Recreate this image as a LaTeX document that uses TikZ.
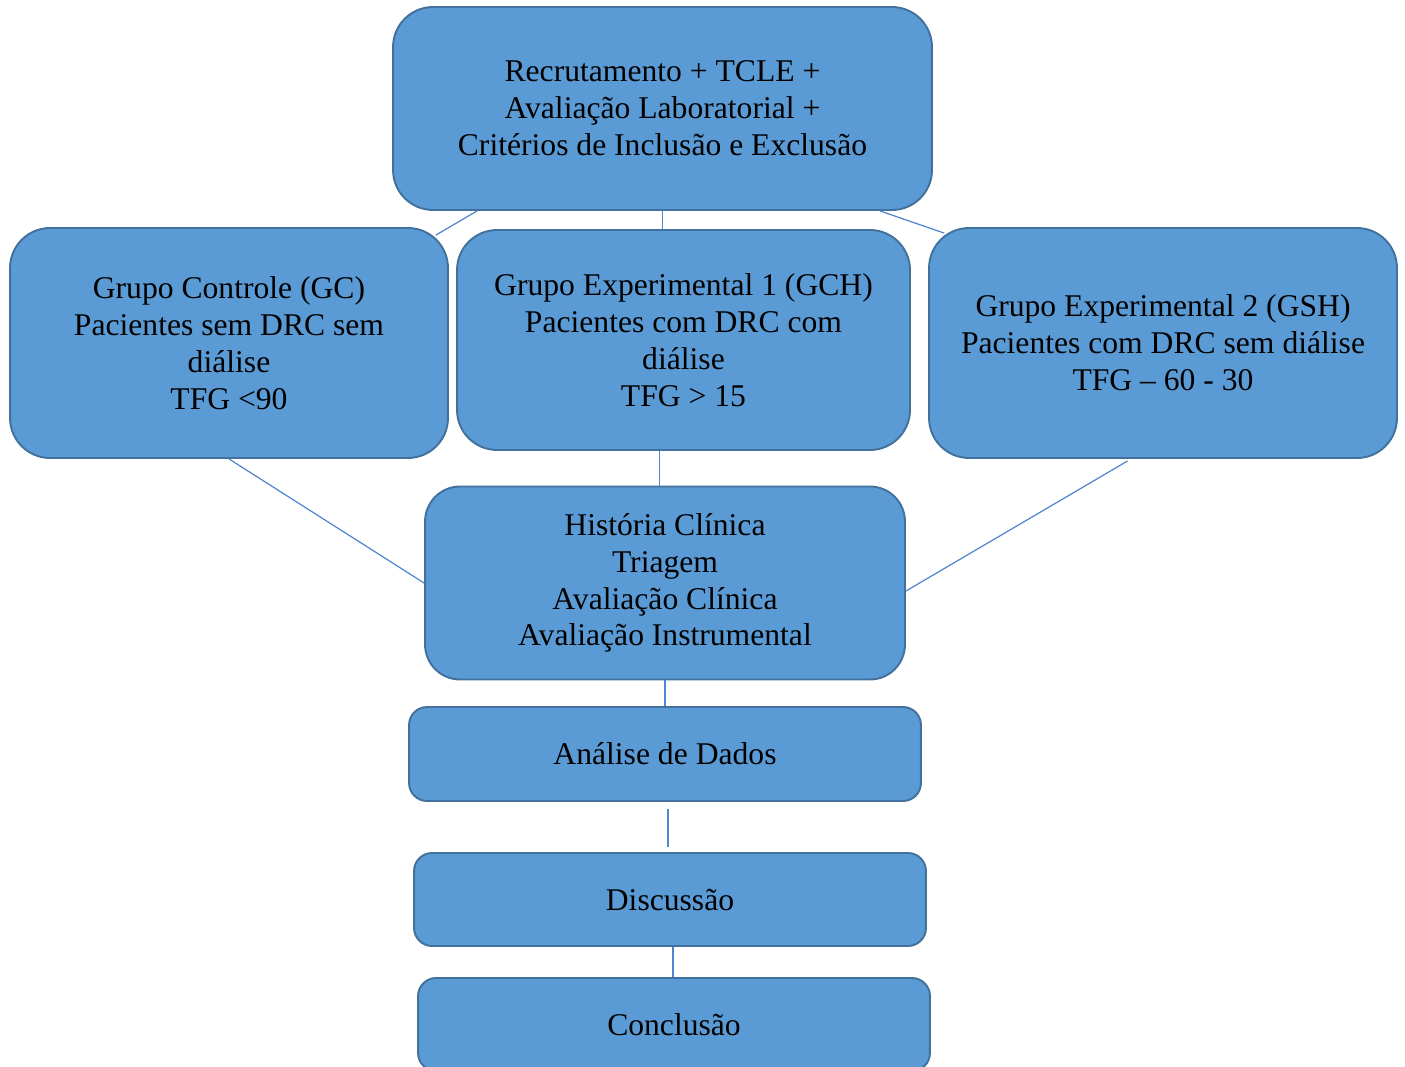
\documentclass[tikz,border=0pt]{standalone}
\usepackage{fontspec}
\setmainfont{Liberation Serif}
\usepackage{tikz}
\usetikzlibrary{positioning}
\definecolor{boxfill}{HTML}{5B9BD5}
\definecolor{boxline}{HTML}{41719C}
\definecolor{linkblue}{HTML}{4F86CF}

\begin{document}
\begin{tikzpicture}[
    x=0.02cm, y=-0.02cm,
    every node/.style={draw=boxline, fill=boxfill, line width=1.1pt, align=center,
      font=\fontsize{18}{21}\selectfont},
    bigbox/.style={rounded corners=0.8cm},
    smallbox/.style={rounded corners=0.36cm},
    link/.style={draw=linkblue, line width=0.7pt}
  ]
  \useasboundingbox (0,0) rectangle (1405,1067);
  \node[bigbox, minimum width=10.78cm, minimum height=4.06cm] (top) at (662.5,108.5)
    {Recrutamento + TCLE +\\ Avaliação Laboratorial +\\ Critérios de Inclusão e Exclusão};
  \node[bigbox, minimum width=8.76cm, minimum height=4.6cm] (gc) at (229,343)
    {Grupo Controle (GC)\\ Pacientes sem DRC sem\\ diálise\\ TFG <90};
  \node[bigbox, minimum width=9.06cm, minimum height=4.4cm] (gch) at (683.5,340)
    {Grupo Experimental 1 (GCH)\\ Pacientes com DRC com\\ diálise\\ TFG > 15};
  \node[bigbox, minimum width=9.36cm, minimum height=4.6cm] (gsh) at (1163,343)
    {Grupo Experimental 2 (GSH)\\ Pacientes com DRC sem diálise\\ TFG – 60 - 30};
  \node[bigbox, rounded corners=0.7cm, minimum width=9.6cm, minimum height=3.86cm] (hist) at (665,583)
    {História Clínica\\ Triagem\\ Avaliação Clínica\\ Avaliação Instrumental};
  \node[smallbox, minimum width=10.24cm, minimum height=1.88cm] (ana) at (665,754) {Análise de Dados};
  \node[smallbox, minimum width=10.24cm, minimum height=1.86cm] (disc) at (670,899.5) {Discussão};
  \node[smallbox, minimum width=10.24cm, minimum height=1.86cm] (conc) at (674,1024.5) {Conclusão};
  % connectors
  \draw[link] ([xshift=-3.71cm]top.south) -- ([xshift=-0.26cm,yshift=-0.16cm]gc.north east);
  \draw[link] (top.south) -- (top.south |- gch.north);
  \draw[link] ([xshift=4.35cm]top.south) -- ([xshift=0.32cm,yshift=-0.12cm]gsh.north west);
  \draw[link] (gc.south) -- (hist.west);
  \draw[link] ([xshift=-0.48cm]gch.south) -- ([xshift=-0.48cm]gch.south |- hist.north);
  \draw[link, shorten <=0.08cm] ([xshift=-0.64cm]gsh.south) -- ([yshift=-0.16cm]hist.east);
  \draw[link] (hist.south) -- (ana.north);
  \draw[link, shorten <=0.14cm, shorten >=0.1cm] ([xshift=0.06cm]ana.south) -- ([xshift=0.06cm]ana.south |- disc.north);
  \draw[link] ([xshift=0.06cm]disc.south) -- ([xshift=0.06cm]disc.south |- conc.north);
\end{tikzpicture}
\end{document}
